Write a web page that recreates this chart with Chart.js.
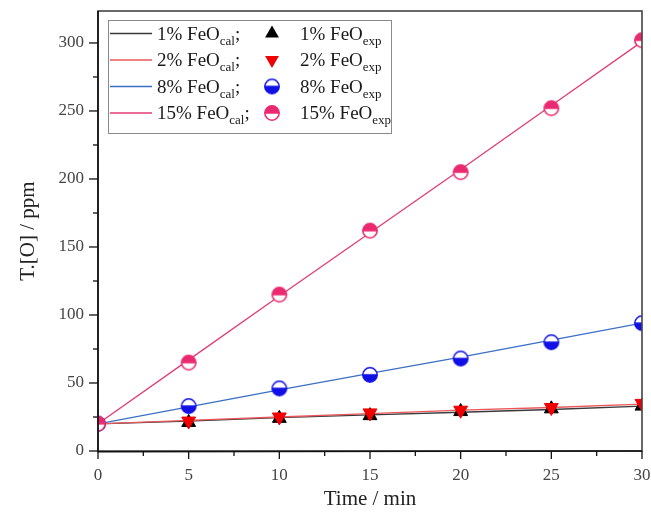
<!DOCTYPE html>
<html>
<head>
<meta charset="utf-8">
<script src="https://cdn.jsdelivr.net/npm/chart.js@4.4.1/dist/chart.umd.min.js"></script>
<style>
  html, body { margin: 0; padding: 0; background: #fff; }
  #wrap { width: 651px; height: 515px; position: relative; }
</style>
</head>
<body>
<div id="wrap"><canvas id="c" width="651" height="515"></canvas></div>
<script>
// ---- data ----
const times = [0, 5, 10, 15, 20, 25, 30];
const cal1 = [20, 22, 24.5, 26.5, 28.5, 30.5, 33];
const cal2 = [20, 22.5, 25, 27.5, 30, 32, 34.5];
const cal8 = [20, 32.5, 45, 57, 69, 81.5, 94];
const cal15 = [20, 67, 114, 160.5, 207, 254, 301];
const exp1 = [20, 21, 24, 26, 29, 31, 33];
const exp2 = [20, 22, 25, 28, 30, 32, 35];
const exp8 = [20, 33, 46, 56, 68, 80, 94];
const exp15 = [20, 65, 115, 162, 205, 252, 302];
const xTicks = [0, 5, 10, 15, 20, 25, 30];
const yTicks = [0, 50, 100, 150, 200, 250, 300];
const seriesNames = ['1% FeO', '2% FeO', '8% FeO', '15% FeO'];

const SERIF = '"Liberation Serif", "Times New Roman", serif';
const C_BLACK_LINE = '#3a3a3a';
const C_RED_LINE = '#e8585c';
const C_BLUE_LINE = '#3b6fc4';
const C_PINK_LINE = '#e23c74';
const C_RED = '#f00000';
const C_BLUE = '#1010e6';
const C_PINK = '#ea2a70';

function pts(ys) { return times.map((t, i) => ({x: t, y: ys[i]})); }

function halfCircle(color, fillTop) {
  const s = 18, c = document.createElement('canvas');
  c.width = s; c.height = s;
  const g = c.getContext('2d');
  const cx = 9, cy = 9, r = 7.2;
  g.fillStyle = '#fff';
  g.beginPath(); g.arc(cx, cy, r, 0, Math.PI * 2); g.fill();
  g.fillStyle = color;
  g.beginPath();
  if (fillTop) g.arc(cx, cy, r, Math.PI, 0); else g.arc(cx, cy, r, 0, Math.PI);
  g.closePath(); g.fill();
  g.strokeStyle = color; g.lineWidth = 1.5;
  g.beginPath(); g.arc(cx, cy, r, 0, Math.PI * 2); g.stroke();
  g.beginPath(); g.moveTo(cx - r, cy); g.lineTo(cx + r, cy); g.stroke();
  return c;
}
const mk8 = halfCircle(C_BLUE, false);
const mk15 = halfCircle(C_PINK, true);

function lineDs(label, ys, color, order) {
  return { label, data: pts(ys), showLine: true, borderColor: color, borderWidth: 1.3,
           pointRadius: 0, fill: false, order };
}

const datasets = [
  lineDs('1% FeO cal', cal1, C_BLACK_LINE, 7),
  lineDs('2% FeO cal', cal2, C_RED_LINE, 6),
  lineDs('8% FeO cal', cal8, C_BLUE_LINE, 5),
  lineDs('15% FeO cal', cal15, C_PINK_LINE, 4),
  { label: '1% FeO exp', data: pts(exp1), showLine: false, pointStyle: 'triangle', pointRadius: 8,
    backgroundColor: '#000', borderColor: '#000', borderWidth: 1, order: 3 },
  { label: '2% FeO exp', data: pts(exp2), showLine: false, pointStyle: 'triangle', rotation: 180, pointRadius: 8,
    backgroundColor: C_RED, borderColor: C_RED, borderWidth: 1, order: 2 },
  { label: '8% FeO exp', data: pts(exp8), showLine: false, pointStyle: mk8, order: 1 },
  { label: '15% FeO exp', data: pts(exp15), showLine: false, pointStyle: mk15, order: 0 }
];

function tri(g, x, y, r, down, color) {
  g.fillStyle = color;
  g.beginPath();
  const s = down ? -1 : 1;
  g.moveTo(x, y - s * r);
  g.lineTo(x + r * 0.866, y + s * r * 0.5);
  g.lineTo(x - r * 0.866, y + s * r * 0.5);
  g.closePath(); g.fill();
}

const framePlugin = {
  id: 'frame',
  afterDatasetsDraw(chart) {
    const g = chart.ctx, a = chart.chartArea;
    const xs = chart.scales.x, ys = chart.scales.y;
    g.save();
    g.strokeStyle = '#444'; g.lineWidth = 1.6;
    g.strokeRect(a.left, a.top, a.right - a.left, a.bottom - a.top);
    g.strokeStyle = '#111'; g.lineWidth = 1.6;
    g.beginPath(); g.moveTo(a.left, a.top); g.lineTo(a.left, a.bottom + 0.8); g.lineTo(a.right, a.bottom); g.stroke();
    g.lineWidth = 1.3; g.strokeStyle = '#111';
    for (let v = 0; v <= 30.001; v += 2.5) {
      const px = xs.getPixelForValue(v);
      const major = Math.abs(v % 5) < 1e-6;
      g.beginPath(); g.moveTo(px, a.bottom); g.lineTo(px, a.bottom + (major ? 8 : 5)); g.stroke();
    }
    for (let v = 0; v <= 320; v += 25) {
      const py = ys.getPixelForValue(v);
      const major = v % 50 === 0;
      g.beginPath(); g.moveTo(a.left, py); g.lineTo(a.left - (major ? 9 : 5), py); g.stroke();
    }
    g.restore();
  },
  afterDraw(chart) {
    const g = chart.ctx;
    g.save();
    const L = 108, T = 20, R = 391, B = 133;
    g.fillStyle = '#fff';
    g.fillRect(L, T, R - L, B - T);
    g.strokeStyle = '#8a8a8a'; g.lineWidth = 1;
    g.strokeRect(L + 0.5, T + 0.5, R - L, B - T);
    const rows = [33.5, 60, 86.5, 113];
    const lineCols = [C_BLACK_LINE, C_RED_LINE, C_BLUE_LINE, C_PINK_LINE];
    g.textBaseline = 'alphabetic';
    rows.forEach((y, i) => {
      g.strokeStyle = lineCols[i]; g.lineWidth = 1.3;
      g.beginPath(); g.moveTo(110, y); g.lineTo(152, y); g.stroke();
      if (i === 0) tri(g, 272, y, 8, false, '#000');
      if (i === 1) tri(g, 272, y, 8, true, C_RED);
      if (i === 2) g.drawImage(mk8, 272 - 9, y - 9);
      if (i === 3) g.drawImage(mk15, 272 - 9, y - 9);
      const base = y + 6;
      g.fillStyle = '#1a1a1a';
      g.font = '19px ' + SERIF;
      let x = 157;
      g.fillText(seriesNames[i], x, base);
      x += g.measureText(seriesNames[i]).width;
      g.font = '13px ' + SERIF;
      g.fillText('cal', x, base + 5);
      x += g.measureText('cal').width;
      g.font = '19px ' + SERIF;
      g.fillText(';', x, base);
      x = 300;
      g.fillText(seriesNames[i], x, base);
      x += g.measureText(seriesNames[i]).width;
      g.font = '13px ' + SERIF;
      g.fillText('exp', x, base + 5);
    });
    g.restore();
  }
};

new Chart(document.getElementById('c'), {
  type: 'scatter',
  data: { datasets },
  options: {
    responsive: false,
    animation: false,
    devicePixelRatio: 1,
    layout: { padding: { top: 11, right: 9, left: 0, bottom: 0 } },
    plugins: { legend: { display: false }, tooltip: { enabled: false } },
    scales: {
      x: {
        type: 'linear', min: 0, max: 30,
        afterFit(s) { s.height = 64; s.paddingLeft = 0; s.paddingRight = 0; },
        afterBuildTicks(s) { s.ticks = xTicks.map(v => ({value: v})); },
        grid: { display: true, drawOnChartArea: false, drawTicks: false, color: 'rgba(0,0,0,0)' },
        border: { display: false },
        ticks: { padding: 14, color: '#444', font: { family: SERIF, size: 17 }, maxRotation: 0 },
        title: { display: true, text: 'Time / min', color: '#222', font: { family: SERIF, size: 21 },
                 padding: { top: 0, bottom: 3 } }
      },
      y: {
        type: 'linear', min: 0, max: 323.5,
        afterFit(s) { s.width = 98; s.paddingTop = 0; s.paddingBottom = 0; },
        afterBuildTicks(s) { s.ticks = yTicks.map(v => ({value: v})); },
        grid: { display: true, drawOnChartArea: false, drawTicks: false, color: 'rgba(0,0,0,0)' },
        border: { display: false },
        ticks: { padding: 14, color: '#444', font: { family: SERIF, size: 17 } },
        title: { display: true, text: 'T.[O] / ppm', color: '#222', font: { family: SERIF, size: 21 },
                 padding: { top: 16, bottom: 0 } }
      }
    }
  },
  plugins: [framePlugin]
});
</script>
</body>
</html>
